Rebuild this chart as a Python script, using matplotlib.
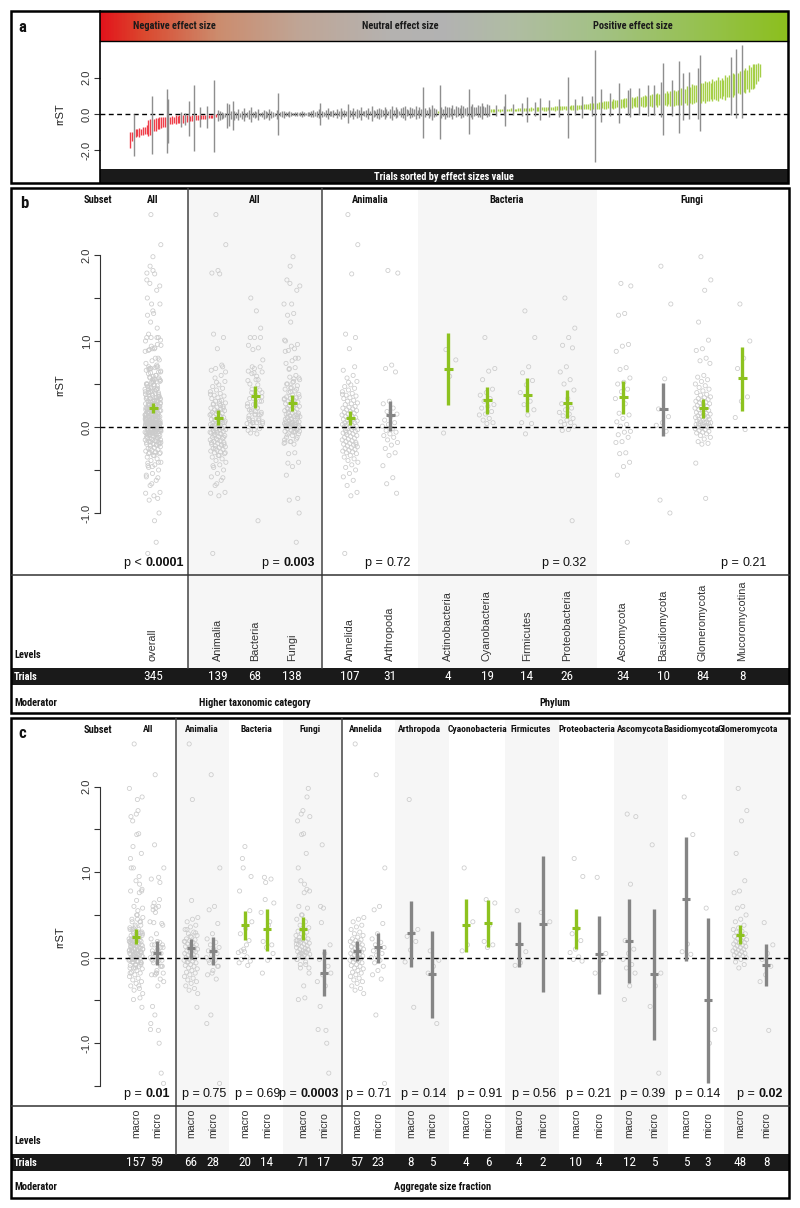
import numpy as np
import matplotlib
matplotlib.use("Agg")
import matplotlib.pyplot as plt
from matplotlib import font_manager
from matplotlib.colors import LinearSegmentedColormap
from matplotlib.patches import Rectangle

# ======================= DATA =======================
# ---- panel a : trials sorted by effect size (effect, half CI width) ----
effect_a = [
    -1.45, -1.22, -1.15, -1.05, -1.02, -1.0, -0.98, -0.95, -0.9, -0.85, -0.78, -0.72, -0.62, -0.6, -0.56,
    -0.53, -0.5, -0.47, -0.44, -0.42, -0.4, -0.38, -0.36, -0.34, -0.33, -0.32, -0.31, -0.3, -0.29, -0.28,
    -0.27, -0.26, -0.25, -0.24, -0.23, -0.22, -0.21, -0.2, -0.19, -0.18, -0.17, -0.16, -0.15, -0.14, -0.13,
    -0.12, -0.11, -0.1, -0.09, -0.09, -0.08, -0.08, -0.07, -0.07, -0.07, -0.06, -0.06, -0.06, -0.05, -0.05,
    -0.05, -0.05, -0.04, -0.04, -0.04, -0.04, -0.04, -0.03, -0.03, -0.03, -0.03, -0.03, -0.03, -0.02, -0.02,
    -0.02, -0.02, -0.02, -0.02, -0.02, -0.01, -0.01, -0.01, -0.01, -0.01, -0.01, -0.01, -0.01, 0.0, 0.0,
    0.0, 0.0, 0.0, 0.0, 0.0, 0.0, 0.0, 0.0, 0.0, 0.01, 0.01, 0.01, 0.01, 0.01, 0.01,
    0.01, 0.01, 0.01, 0.01, 0.02, 0.02, 0.02, 0.02, 0.02, 0.02, 0.02, 0.02, 0.02, 0.03, 0.03,
    0.03, 0.03, 0.03, 0.03, 0.03, 0.03, 0.03, 0.04, 0.04, 0.04, 0.04, 0.04, 0.04, 0.04, 0.04,
    0.05, 0.05, 0.05, 0.05, 0.05, 0.05, 0.05, 0.05, 0.05, 0.06, 0.06, 0.06, 0.06, 0.06, 0.06,
    0.06, 0.07, 0.07, 0.07, 0.07, 0.07, 0.07, 0.07, 0.08, 0.08, 0.08, 0.08, 0.08, 0.08, 0.09,
    0.09, 0.09, 0.09, 0.09, 0.10, 0.10, 0.10, 0.10, 0.11, 0.11, 0.11, 0.11, 0.12, 0.12, 0.12,
    0.13, 0.13, 0.13, 0.14, 0.14, 0.14, 0.15, 0.15, 0.15, 0.16, 0.16, 0.16, 0.17, 0.17, 0.17,
    0.18, 0.18, 0.19, 0.19, 0.2, 0.2, 0.2, 0.21, 0.21, 0.21, 0.22, 0.22, 0.22, 0.23, 0.23,
    0.23, 0.24, 0.24, 0.24, 0.25, 0.25, 0.25, 0.26, 0.26, 0.26, 0.27, 0.27, 0.27, 0.28, 0.28,
    0.28, 0.29, 0.29, 0.3, 0.3, 0.3, 0.31, 0.31, 0.32, 0.32, 0.33, 0.33, 0.34, 0.34, 0.35,
    0.35, 0.36, 0.36, 0.37, 0.37, 0.38, 0.38, 0.39, 0.39, 0.4, 0.41, 0.42, 0.43, 0.44, 0.45,
    0.46, 0.47, 0.48, 0.49, 0.5, 0.51, 0.52, 0.53, 0.54, 0.55, 0.56, 0.57, 0.58, 0.59, 0.6,
    0.61, 0.62, 0.63, 0.64, 0.65, 0.66, 0.67, 0.68, 0.69, 0.7, 0.71, 0.72, 0.73, 0.74, 0.75,
    0.76, 0.77, 0.78, 0.79, 0.8, 0.81, 0.82, 0.83, 0.84, 0.85, 0.86, 0.87, 0.88, 0.9, 0.92,
    0.94, 0.96, 0.98, 1.0, 1.02, 1.04, 1.06, 1.08, 1.1, 1.12, 1.14, 1.16, 1.18, 1.2, 1.22,
    1.24, 1.26, 1.28, 1.3, 1.32, 1.34, 1.36, 1.38, 1.4, 1.43, 1.46, 1.49, 1.52, 1.55, 1.58,
    1.62, 1.66, 1.7, 1.74, 1.78, 1.82, 1.86, 1.9, 1.95, 2.0, 2.05, 2.1, 2.2, 2.3, 2.4]
halfci_a = [
    0.45, 0.25, 1.17, 0.22, 0.2, 0.25, 0.18, 0.22, 0.2, 0.25, 0.45, 0.42, 1.6, 0.33, 0.35,
    0.3, 0.35, 0.32, 0.3, 0.28, 1.75, 1.2, 0.2, 0.22, 0.18, 0.25, 0.2, 0.22, 0.4, 0.2,
    0.35, 0.18, 0.95, 0.15, 0.16, 1.8, 0.14, 0.12, 0.55, 0.12, 0.1, 0.12, 0.6, 0.1, 0.09,
    0.08, 2.0, 0.08, 0.3, 0.25, 0.2, 0.15, 0.12, 0.7, 0.6, 0.2, 0.8, 0.25, 0.15, 0.3,
    0.12, 0.2, 0.35, 0.1, 0.15, 0.25, 0.4, 0.12, 0.2, 0.15, 0.3, 0.1, 0.15, 0.25, 0.2,
    0.12, 0.3, 0.18, 0.15, 0.1, 0.25, 1.15, 0.12, 0.15, 0.2, 0.1, 0.12, 0.15, 0.1, 0.08,
    0.1, 0.12, 0.08, 0.1, 0.15, 0.1, 0.08, 0.12, 0.1, 0.15, 0.2, 0.1, 0.15, 0.25, 0.6,
    0.15, 0.1, 0.2, 0.3, 0.15, 0.12, 0.2, 0.1, 0.25, 0.15, 0.3, 0.12, 0.2, 0.15, 0.5,
    0.2, 0.12, 0.3, 0.15, 0.25, 0.2, 0.35, 0.1, 0.15, 0.2, 0.3, 0.12, 0.4, 0.2, 0.15,
    0.25, 0.3, 0.2, 0.15, 0.35, 0.2, 0.12, 0.25, 0.4, 0.15, 0.3, 0.2, 0.12, 0.25, 0.3,
    0.4, 0.2, 0.15, 0.3, 0.25, 0.2, 0.35, 0.15, 0.3, 0.2, 1.4, 0.25, 0.15, 0.3, 0.2,
    0.4, 0.25, 0.2, 0.06, 1.5, 0.3, 0.2, 0.35, 0.25, 0.3, 0.2, 0.4, 0.15, 0.3, 0.25,
    0.2, 0.35, 0.3, 0.2, 0.25, 1.25, 0.3, 0.4, 0.25, 0.2, 0.35, 0.3, 0.45, 0.25, 0.2,
    0.35, 0.3, 0.08, 0.06, 0.07, 0.3, 0.05, 0.08, 0.06, 0.25, 0.9, 0.07, 0.06, 0.08, 0.3,
    0.07, 0.06, 0.1, 0.08, 0.35, 0.07, 0.09, 0.7, 0.08, 0.1, 0.07, 0.4, 0.09, 0.1, 0.6,
    0.08, 0.1, 0.12, 0.09, 0.45, 0.1, 0.08, 0.12, 0.1, 0.5, 0.12, 0.1, 0.08, 0.12, 1.7,
    0.1, 0.14, 0.12, 0.45, 0.15, 0.1, 0.12, 0.6, 0.14, 0.15, 0.12, 0.18, 0.55, 0.15, 3.1,
    0.16, 0.2, 0.9, 0.18, 0.2, 0.22, 0.18, 0.65, 0.2, 0.25, 0.22, 0.2, 1.1, 0.25, 0.22,
    0.28, 0.25, 0.7, 0.8, 0.3, 0.22, 0.28, 0.3, 0.75, 0.25, 0.3, 0.35, 0.28, 0.85, 0.3,
    0.35, 0.8, 0.3, 0.38, 0.32, 0.95, 2.0, 0.35, 0.4, 0.3, 0.42, 1.0, 0.45, 0.38, 0.4,
    2.0, 0.45, 1.3, 0.4, 0.5, 1.3, 0.45, 0.55, 0.5, 0.45, 1.4, 2.1, 0.55, 0.5, 0.6,
    0.5, 0.55, 0.45, 0.6, 0.5, 0.55, 0.65, 0.5, 0.6, 0.45, 0.7, 0.55, 0.6, 1.6, 0.65,
    0.6, 1.9, 0.55, 0.65, 2.0, 0.6, 0.7, 0.55, 0.75, 0.6, 0.7, 0.65, 0.55, 0.5, 0.35]
header_a = ["Negative effect size", "Neutral effect size", "Positive effect size"]

# ---- panel b : higher taxonomic category / phylum ----
subset_b = ["All", "All", "Animalia", "Bacteria", "Fungi"]
levels_b = ["overall", "Animalia", "Bacteria", "Fungi", "Annelida", "Arthropoda",
            "Actinobacteria", "Cyanobacteria", "Firmicutes", "Proteobacteria",
            "Ascomycota", "Basidiomycota", "Glomeromycota", "Mucoromycotina"]
trials_b = [345, 139, 68, 138, 107, 31, 4, 19, 14, 26, 34, 10, 84, 8]
est_b = [0.225, 0.10, 0.36, 0.28, 0.10, 0.14, 0.67, 0.31, 0.37, 0.275, 0.345, 0.21, 0.225, 0.566]
lo_b = [0.16, 0.02, 0.22, 0.19, 0.02, -0.05, 0.26, 0.15, 0.17, 0.11, 0.155, -0.105, 0.10, 0.19]
hi_b = [0.28, 0.20, 0.48, 0.37, 0.19, 0.30, 1.09, 0.47, 0.57, 0.43, 0.535, 0.515, 0.33, 0.93]
p_op_b = ["<", "=", "=", "=", "="]
p_val_b = ["0.0001", "0.003", "0.72", "0.32", "0.21"]
p_bold_b = [True, True, False, False, False]
moderator_b = ["Higher taxonomic category", "Phylum"]

annelida_b = [2.47, 2.12, 1.78, 1.08, 1.04, 0.91, 0.66, 0.6, 0.57, 0.53, 0.49, 0.47, 0.45, 0.43, 0.41,
              0.39, 0.37, 0.36, 0.34, 0.33, 0.31, 0.3, 0.28, 0.27, 0.26, 0.24, 0.23, 0.22, 0.21, 0.2,
              0.19, 0.18, 0.17, 0.16, 0.15, 0.14, 0.13, 0.12, 0.11, 0.1, 0.09, 0.09, 0.08, 0.07, 0.06,
              0.05, 0.05, 0.04, 0.03, 0.02, 0.02, 0.01, 0.0, 0.0, -0.01, -0.02, -0.03, -0.03, -0.04, -0.05,
              -0.06, -0.07, -0.08, -0.09, -0.1, -0.11, -0.12, -0.13, -0.14, -0.15, -0.16, -0.17, -0.18,
              -0.19, -0.2, -0.21, -0.22, -0.23, -0.24, -0.25, -0.26, -0.27, -0.28, -0.29, -0.3, -0.31,
              -0.33, -0.35, -0.37, -0.39, -0.41, -0.44, -0.47, -0.5, -0.54, -0.58, -0.62, -0.68, -0.76,
              -0.8, -1.47, 0.7, 0.52, 0.38, 0.12, -0.06, -0.2]
arthropoda_b = [1.82, 1.79, 0.72, 0.68, 0.64, 0.3, 0.27, 0.22, 0.18, 0.15, 0.12, 0.08, 0.05, 0.03, 0.01,
                -0.02, -0.04, -0.06, -0.08, -0.1, -0.12, -0.15, -0.18, -0.21, -0.25, -0.3, -0.33, -0.45,
                -0.59, -0.66, -0.77]
animalia_other_b = [0.25]
actino_b = [0.9, 0.78, 0.59, -0.07]
cyano_b = [1.04, 0.68, 0.65, 0.55, 0.44, 0.4, 0.37, 0.33, 0.3, 0.26, 0.24, 0.22, 0.18, 0.15, 0.14,
           0.1, 0.08, 0.05, 0.04]
firmi_b = [1.35, 1.04, 0.7, 0.63, 0.54, 0.49, 0.4, 0.3, 0.26, 0.2, 0.14, 0.05, 0.04, -0.08]
proteo_b = [1.5, 1.15, 1.04, 0.95, 0.92, 0.7, 0.64, 0.55, 0.5, 0.43, 0.33, 0.27, 0.22, 0.2, 0.17,
            0.15, 0.13, 0.1, 0.08, 0.06, 0.05, 0.03, 0.01, -0.03, -0.04, -1.09]
bacteria_other_b = [0.62, 0.35, 0.18, 0.08, -0.02]
asco_b = [1.67, 1.64, 1.32, 1.3, 0.96, 0.94, 0.88, 0.69, 0.67, 0.57, 0.52, 0.5, 0.44, 0.41, 0.33,
          0.27, 0.16, 0.14, 0.1, 0.06, 0.03, 0.01, -0.05, -0.06, -0.09, -0.12, -0.17, -0.18, -0.3,
          -0.31, -0.41, -0.46, -0.56, -1.34]
basidio_b = [1.87, 1.43, 0.56, 0.21, 0.12, 0.05, 0.02, -0.05, -0.85, -1.0]
glomero_b = [1.98, 1.71, 1.59, 1.22, 1.01, 0.91, 0.89, 0.8, 0.77, 0.74, 0.6, 0.58, 0.55, 0.53, 0.5,
             0.48, 0.46, 0.44, 0.42, 0.4, 0.38, 0.37, 0.35, 0.34, 0.33, 0.32, 0.31, 0.3, 0.29, 0.28,
             0.27, 0.26, 0.25, 0.24, 0.23, 0.22, 0.21, 0.2, 0.19, 0.18, 0.17, 0.16, 0.16, 0.15, 0.14,
             0.13, 0.12, 0.12, 0.11, 0.1, 0.09, 0.09, 0.08, 0.07, 0.06, 0.06, 0.05, 0.05, 0.04, 0.04,
             0.03, 0.03, 0.02, 0.02, 0.01, 0.01, 0.0, 0.0, -0.01, -0.02, -0.03, -0.04, -0.05, -0.06,
             -0.07, -0.08, -0.1, -0.12, -0.14, -0.17, -0.19, -0.2, -0.42, -0.83]
mucoro_b = [1.43, 1.0, 0.8, 0.68, 0.35, 0.3, 0.11, -0.03]
fungi_other_b = [0.45, -0.15]

# ---- panel c : aggregate size fraction ----
subset_c = ["All", "Animalia", "Bacteria", "Fungi", "Annelida", "Arthropoda", "Cyaonobacteria",
            "Firmicutes", "Proteobacteria", "Ascomycota", "Basidiomycota", "Glomeromycota"]
levels_c = ["macro", "micro"] * 12
trials_c = [157, 59, 66, 28, 20, 14, 71, 17, 57, 23, 8, 5, 4, 6, 4, 2, 10, 4, 12, 5, 5, 3, 48, 8]
est_c = [0.245, 0.06, 0.11, 0.08, 0.38, 0.33, 0.34, -0.175, 0.08, 0.12, 0.285, -0.19,
         0.378, 0.406, 0.156, 0.398, 0.343, 0.043, 0.195, -0.19, 0.69, -0.49, 0.262, -0.086]
lo_c = [0.155, -0.09, -0.015, -0.085, 0.21, 0.08, 0.21, -0.45, -0.04, -0.065, -0.105, -0.70,
        0.066, 0.129, -0.11, -0.40, 0.105, -0.42, -0.30, -0.96, -0.035, -1.462, 0.16, -0.33]
hi_c = [0.335, 0.195, 0.22, 0.245, 0.55, 0.57, 0.48, 0.10, 0.195, 0.29, 0.663, 0.316,
        0.69, 0.67, 0.418, 1.19, 0.573, 0.49, 0.69, 0.57, 1.415, 0.468, 0.378, 0.16]
p_op_c = ["="] * 12
p_val_c = ["0.01", "0.75", "0.69", "0.0003", "0.71", "0.14", "0.91", "0.56", "0.21", "0.39", "0.14", "0.02"]
p_bold_c = [True, False, False, True, False, False, False, False, False, False, False, True]
moderator_c = "Aggregate size fraction"

annelida_c_ma = [2.5, 0.47, 0.45, 0.42, 0.38, 0.36, 0.33, 0.3, 0.28, 0.26, 0.24, 0.22, 0.21, 0.2, 0.19,
                 0.18, 0.16, 0.15, 0.14, 0.13, 0.12, 0.11, 0.1, 0.09, 0.08, 0.07, 0.06, 0.05, 0.04, 0.03,
                 0.02, 0.01, 0.0, -0.01, -0.02, -0.03, -0.04, -0.05, -0.06, -0.08, -0.09, -0.1, -0.12,
                 -0.13, -0.15, -0.17, -0.18, -0.2, -0.22, -0.24, -0.26, -0.28, -0.3, -0.33, -0.36, -0.38, -0.42]
annelida_c_mi = [2.14, 1.05, 0.6, 0.56, 0.4, 0.28, 0.22, 0.18, 0.15, 0.12, 0.1, 0.08, 0.05, 0.03, 0.0,
                 -0.03, -0.06, -0.1, -0.15, -0.2, -0.25, -0.67, -1.47]
arthro_c_ma = [1.85, 0.33, 0.29, 0.25, 0.19, 0.09, -0.05, -0.58]
arthro_c_mi = [0.08, -0.03, -0.1, -0.18, -0.77]
animalia_other_c_ma = [0.67]
cyano_c_ma = [1.05, 0.42, 0.15, 0.08]
cyano_c_mi = [0.68, 0.64, 0.38, 0.19, 0.15, 0.12]
firmi_c_ma = [0.55, 0.07, -0.06, -0.09]
firmi_c_mi = [0.53, 0.42]
proteo_c_ma = [1.16, 0.95, 0.34, 0.28, 0.2, 0.1, 0.06, 0.01, -0.02, -0.04]
proteo_c_mi = [0.94, 0.05, -0.03, -0.18]
bacteria_other_c_ma = [1.3, 0.78]
bacteria_other_c_mi = [0.92, 0.88]
asco_c_ma = [1.68, 1.65, 0.86, 0.2, 0.1, 0.05, -0.02, -0.08, -0.12, -0.18, -0.33, -0.49]
asco_c_mi = [1.32, -0.18, -0.33, -0.57, -1.35]
basidio_c_ma = [1.88, 1.44, 0.16, 0.07, 0.04]
basidio_c_mi = [0.58, -0.84, -1.0]
glomero_c_ma = [1.98, 1.72, 1.6, 1.22, 0.9, 0.78, 0.76, 0.6, 0.58, 0.5, 0.45, 0.42, 0.38, 0.35, 0.33,
                0.31, 0.3, 0.28, 0.26, 0.25, 0.24, 0.22, 0.21, 0.2, 0.19, 0.18, 0.17, 0.16, 0.15, 0.14,
                0.13, 0.12, 0.11, 0.1, 0.09, 0.08, 0.07, 0.06, 0.05, 0.04, 0.03, 0.02, 0.01, 0.0,
                -0.02, -0.05, -0.08, -0.12]
glomero_c_mi = [0.41, 0.15, 0.05, -0.02, -0.1, -0.2, -0.28, -0.85]
fungi_other_c_ma = [1.45, 1.05, 0.8, 0.5, 0.2, -0.47]
fungi_other_c_mi = [0.6]

# ======================= LAYOUT / STYLE =======================
W, H = 800, 1208
GREEN = "#8dc21f"
GRAY = "#858585"
PTCOL = "#cbcbcb"
SHADE = "#f6f6f6"
RED_A = "#ef3e4a"
GREEN_A = "#a5cf47"
GRAY_A = "#8e8e8e"


def pick(cands):
    for c in cands:
        try:
            font_manager.findfont(font_manager.FontProperties(family=c), fallback_to_default=False)
            return c
        except Exception:
            pass
    return "DejaVu Sans"


NARROW = pick(["Liberation Sans Narrow", "Roboto Condensed", "Liberation Sans"])
ARIAL = pick(["Liberation Sans", "Arial", "DejaVu Sans"])
PFONT = ARIAL

fig = plt.figure(figsize=(W / 100, H / 100), dpi=100)


def px_axes(x0, y0, x1, y1, z=1):
    ax = fig.add_axes([x0 / W, 1 - y1 / H, (x1 - x0) / W, (y1 - y0) / H], zorder=z)
    ax.set_facecolor("none")
    return ax


bg = px_axes(0, 0, W, H, z=0)
ov = px_axes(0, 0, W, H, z=5)
for a in (bg, ov):
    a.set_xlim(0, W)
    a.set_ylim(H, 0)
    a.axis("off")


def rect(ax, x0, y0, x1, y1, **kw):
    ax.add_patch(Rectangle((x0, y0), x1 - x0, y1 - y0, **kw))


def line(x0, y0, x1, y1, lw=1.2, color="black"):
    ov.plot([x0, x1], [y0, y1], color=color, lw=lw, solid_capstyle="projecting")


def jitter(n, w):
    return np.array([((i * 0.6180339887 + 0.37) % 1.0 - 0.5) * 2 * w for i in range(n)])


def bold(x, y, s, size=7.5, color="#111111", ha="center", va="center", **kw):
    ov.text(x, y, s, family=NARROW, weight="bold", fontsize=size, color=color, ha=ha, va=va, **kw)


def ptext(x, y, op, val, isbold):
    t = ov.text(x, y, val, ha="right", va="baseline", fontsize=9, family=PFONT,
                weight="bold" if isbold else "normal", color="#111111")
    ov.annotate("p %s " % op, xy=(0, 0), xycoords=t, ha="right", va="bottom",
                fontsize=9, family=PFONT, color="#111111")


def style_yaxis(ax, ticks, labels, spine_x=None, bounds=None):
    for s in ("top", "right", "bottom"):
        ax.spines[s].set_visible(False)
    if spine_x is not None:
        ax.spines["left"].set_position(("data", spine_x))
        ax.spines["left"].set_bounds(*bounds)
        ax.spines["left"].set_color("#333333")
        ax.spines["left"].set_linewidth(0.8)
    else:
        ax.spines["left"].set_visible(False)
    ax.set_xticks([])
    ax.set_yticks(ticks)
    ax.set_yticklabels(labels, rotation=90, va="center", family=ARIAL, fontsize=8, color="#333333")
    ax.tick_params(axis="y", direction="out", length=4, width=0.8, color="#333333", pad=2)


# ======================= PANEL A =======================
grad = LinearSegmentedColormap.from_list("grad", [
    (0.0, (0.89, 0.08, 0.11)), (0.06, (0.86, 0.28, 0.18)), (0.17, (0.80, 0.55, 0.43)),
    (0.29, (0.75, 0.65, 0.59)), (0.42, (0.71, 0.70, 0.69)), (0.5, (0.70, 0.70, 0.70)),
    (0.6, (0.69, 0.74, 0.64)), (0.73, (0.64, 0.76, 0.52)), (0.87, (0.59, 0.76, 0.32)),
    (1.0, (0.55, 0.75, 0.12))])
bg.imshow(np.linspace(0, 1, 600)[None, :], cmap=grad, extent=(100, 788, 41, 11),
          aspect="auto", interpolation="bilinear", zorder=0)
rect(bg, 100, 169, 788, 183, color="#1a1a1a", lw=0)
bg.set_xlim(0, W)
bg.set_ylim(H, 0)

axa = px_axes(100, 41, 788, 169, z=2)
n_a = len(effect_a)
xa = np.arange(n_a)
ea = np.array(effect_a)
ha_ = np.array(halfci_a)
lo_a, hi_a = ea - ha_, ea + ha_
cols_a = [RED_A if h < 0 else (GREEN_A if l > 0 else GRAY_A) for l, h in zip(lo_a, hi_a)]
axa.vlines(xa, lo_a, hi_a, colors=cols_a, lw=1.0)
axa.axhline(0, color="black", lw=1.0, ls=(0, (3.5, 2.5)), zorder=0.5)
axa.set_xlim(-16.4, n_a - 1 + 15.3)
axa.set_ylim(-3.03, 4.02)
style_yaxis(axa, [-2, 0, 2], ["-2.0", "0.0", "2.0"])

bold(22, 28, "a", size=12, ha="center")
ov.text(60, 114, "rrST", rotation=90, ha="center", va="center", family=ARIAL, fontsize=8, color="#222222")
for s, x in zip(header_a, [174, 400, 633]):
    bold(x, 26, s, size=7.5, color="#1a1a1a")
bold(444, 176.5, "Trials sorted by effect sizes value", color="white")
rect(ov, 11, 11, 788, 183, fill=False, ec="black", lw=1.8)
line(100, 11, 100, 183, lw=1.2)
line(100, 41, 788, 41, lw=1.0)


# ======================= GENERIC PANEL DRAWER =======================
def draw_points_ci(ax, xs, groups, est, lo, hi, jw, halfw):
    for x, g in zip(xs, groups):
        ax.scatter(x + jitter(len(g), jw), g, s=9, facecolors="none", edgecolors=PTCOL,
                   linewidths=0.55, zorder=2)
    for x, m, l, h in zip(xs, est, lo, hi):
        c = GREEN if l > 0 else GRAY
        ax.vlines(x, l, h, colors=c, lw=2.4, zorder=4)
        ax.hlines(m, x - halfw, x + halfw, colors=c, lw=2.2, zorder=4)


# ======================= PANEL B =======================
xb = [153, 218, 255, 292, 350, 390, 448, 487, 527, 567, 623, 663, 703, 742]
subset_xb = [153, 255, 370, 507, 692]
pright_b = [184, 315, 411, 587, 767]
shade_b = [(188, 322), (418, 597)]
sep_b = [188, 322]

anim_b = annelida_b + arthropoda_b + animalia_other_b
bact_b = actino_b + cyano_b + firmi_b + proteo_b + bacteria_other_b
fung_b = asco_b + basidio_b + glomero_b + mucoro_b + fungi_other_b
groups_b = [anim_b + bact_b + fung_b, anim_b, bact_b, fung_b, annelida_b, arthropoda_b,
            actino_b, cyano_b, firmi_b, proteo_b, asco_b, basidio_b, glomero_b, mucoro_b]

for x0, x1 in shade_b:
    rect(bg, x0, 188, x1, 668, color=SHADE, lw=0)
rect(bg, 11, 668, 789, 685, color="#1a1a1a", lw=0)

axb = px_axes(12, 188, 789, 575, z=2)
axb.set_xlim(12, 789)
axb.set_ylim((427 - 575) / 86.0, (427 - 188) / 86.0)
draw_points_ci(axb, xb, groups_b, est_b, lo_b, hi_b, 8, 4.5)
axb.plot([100, 789], [0, 0], color="black", lw=1.0, ls=(0, (3.5, 2.5)), zorder=3)
style_yaxis(axb, [-1, -0.5, 0, 0.5, 1, 1.5, 2], ["-1.0", "", "0.0", "", "1.0", "", "2.0"],
            spine_x=100, bounds=(-1, 2))

bold(24, 203, "b", size=12)
bold(98, 200, "Subset")
for s, x in zip(subset_b, subset_xb):
    bold(x, 200, s)
ov.text(60, 385, "rrST", rotation=90, ha="center", va="center", family=ARIAL, fontsize=8, color="#222222")
for x, op, v, b in zip(pright_b, p_op_b, p_val_b, p_bold_b):
    ptext(x, 566, op, v, b)
for x, s in zip(xb, levels_b):
    ov.text(x, 661, s, rotation=90, ha="center", va="bottom", family=ARIAL, fontsize=7.8, color="#333333")
for x, n in zip(xb, trials_b):
    ov.text(x, 676.5, str(n), ha="center", va="center", family=NARROW, fontsize=9.5, color="white")
bold(14, 655, "Levels", ha="left")
bold(14, 676.5, "Trials", ha="left", color="white")
bold(14, 703, "Moderator", ha="left")
bold(255, 703, moderator_b[0])
bold(555, 703, moderator_b[1])
rect(ov, 11, 188, 789, 713, fill=False, ec="black", lw=1.8)
for x in sep_b:
    line(x, 188, x, 668, lw=1.1, color="#444444")
line(11, 575, 789, 575, lw=1.1, color="#333333")

# ======================= PANEL C =======================
xc = [136, 157, 191, 213, 245, 267, 303, 324, 357, 378, 411, 432,
      466, 488, 519, 543, 576, 599, 629, 654, 686, 708, 740, 766]
subset_xc = [148, 202, 256, 310, 366, 419, 477, 531, 587, 640, 692, 748]
pright_c = [170, 227, 281, 339, 392, 447, 503, 557, 612, 666, 721, 783]
shade_c = [(176, 229), (283, 342), (395, 449), (505, 559), (614, 668), (724, 789)]
sep_c = [176, 342]

anim_c_ma = annelida_c_ma + arthro_c_ma + animalia_other_c_ma
anim_c_mi = annelida_c_mi + arthro_c_mi
bact_c_ma = cyano_c_ma + firmi_c_ma + proteo_c_ma + bacteria_other_c_ma
bact_c_mi = cyano_c_mi + firmi_c_mi + proteo_c_mi + bacteria_other_c_mi
fung_c_ma = asco_c_ma + basidio_c_ma + glomero_c_ma + fungi_other_c_ma
fung_c_mi = asco_c_mi + basidio_c_mi + glomero_c_mi + fungi_other_c_mi
groups_c = [anim_c_ma + bact_c_ma + fung_c_ma, anim_c_mi + bact_c_mi + fung_c_mi,
            anim_c_ma, anim_c_mi, bact_c_ma, bact_c_mi, fung_c_ma, fung_c_mi,
            annelida_c_ma, annelida_c_mi, arthro_c_ma, arthro_c_mi, cyano_c_ma, cyano_c_mi,
            firmi_c_ma, firmi_c_mi, proteo_c_ma, proteo_c_mi, asco_c_ma, asco_c_mi,
            basidio_c_ma, basidio_c_mi, glomero_c_ma, glomero_c_mi]

for x0, x1 in shade_c:
    rect(bg, x0, 718, x1, 1154, color=SHADE, lw=0)
rect(bg, 11, 1154, 789, 1171, color="#1a1a1a", lw=0)

axc = px_axes(12, 718, 789, 1106, z=2)
axc.set_xlim(12, 789)
axc.set_ylim((957.7 - 1106) / 85.5, (957.7 - 718) / 85.5)
draw_points_ci(axc, xc, groups_c, est_c, lo_c, hi_c, 7, 4.0)
axc.plot([100, 789], [0, 0], color="black", lw=1.0, ls=(0, (3.5, 2.5)), zorder=3)
style_yaxis(axc, [-1.5, -1, -0.5, 0, 0.5, 1, 1.5, 2], ["", "-1.0", "", "0.0", "", "1.0", "", "2.0"],
            spine_x=100, bounds=(-1.5, 2))

bold(22, 733, "c", size=12)
bold(98, 730, "Subset")
for s, x in zip(subset_c, subset_xc):
    bold(x, 730, s, size=6.8)
ov.text(60, 937, "rrST", rotation=90, ha="center", va="center", family=ARIAL, fontsize=8, color="#222222")
for x, op, v, b in zip(pright_c, p_op_c, p_val_c, p_bold_c):
    ptext(x, 1097, op, v, b)
for x, s in zip(xc, levels_c):
    ov.text(x, 1138, s, rotation=90, ha="center", va="bottom", family=ARIAL, fontsize=7.6, color="#333333")
for x, n in zip(xc, trials_c):
    ov.text(x, 1162.5, str(n), ha="center", va="center", family=NARROW, fontsize=9.5, color="white")
bold(14, 1141, "Levels", ha="left")
bold(14, 1162.5, "Trials", ha="left", color="white")
bold(14, 1187, "Moderator", ha="left")
bold(443, 1187, moderator_c)
rect(ov, 11, 718, 789, 1198, fill=False, ec="black", lw=1.8)
for x in sep_c:
    line(x, 718, x, 1154, lw=1.1, color="#444444")
line(11, 1106, 789, 1106, lw=1.1, color="#333333")

fig.savefig("out.png", dpi=100, facecolor="white")
